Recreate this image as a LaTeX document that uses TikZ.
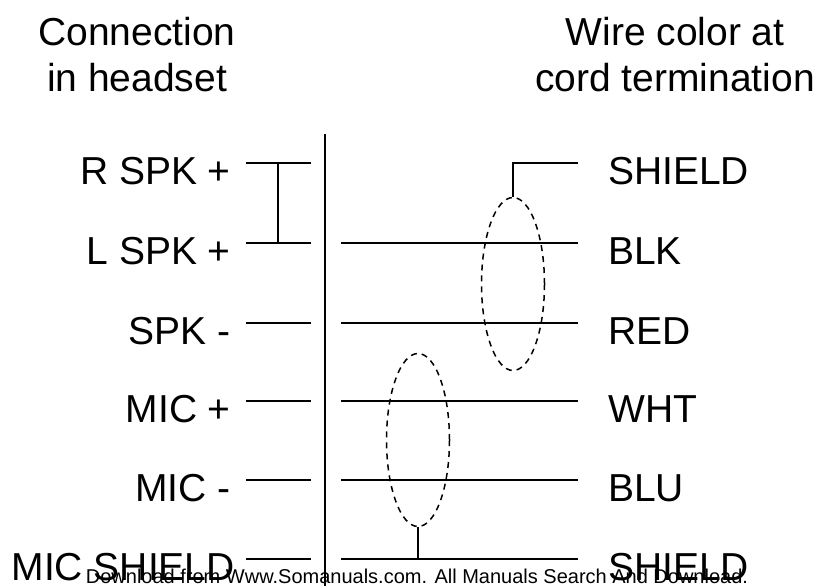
\documentclass[tikz,border=0pt]{standalone}
\usepackage{fontspec}
\setmainfont{Liberation Sans}
\usetikzlibrary{positioning,shapes.geometric}
\begin{document}
\begin{tikzpicture}[x=1pt,y=-1pt,
                    signal/.style={inner sep=0pt,font=\fontsize{39}{44}\selectfont},
                    leftlabel/.style={signal,anchor=base east},
                    rightlabel/.style={signal,anchor=base west},
                    title/.style={inner sep=0pt,align=center,anchor=center,font=\fontsize{39}{46}\selectfont},
                    wire/.style={draw=black,line width=1.3pt},
                    pair/.style={draw=black,line width=1.5pt,dash pattern=on 6pt off 5pt,ellipse,minimum width=63pt,minimum height=173pt,inner sep=0pt}
                ]
    \useasboundingbox (0,0) rectangle (818,586);
    \node[title] (headset) at (137,55) {Connection\\in headset};
    \node[title] (cord) at (675,55) {Wire color at\\cord termination};
    % left column
    \foreach \name/\txt/\y/\x in {rspk/R SPK +/163/231,lspk/L SPK +/243/231,spkm/SPK -/323/231,micp/MIC +/401/231,micm/MIC -/480/231,micsh/MIC SHIELD/559/235}
        {
        \node[leftlabel] (\name) at (\x,\y+21.5) {\txt};
        \coordinate (\name a) at (246,\y);
        \coordinate (\name b) at (311,\y);
        \draw[wire] (\name a) -- (\name b);
        }
    % right column
    \foreach \name/\txt/\y in {shieldr/SHIELD/163,blk/BLK/243,red/RED/323,wht/WHT/401,blu/BLU/480,shieldb/SHIELD/559}
        {
        \node[rightlabel] (\name) at (608,\y+21.5) {\txt};
        \coordinate (\name e) at (578,\y);
        }
    \foreach \name/\y in {blk/243,red/323,wht/401,blu/480,shieldb/559}
        {
        \coordinate (\name s) at (341,\y);
        \draw[wire] (\name s) -- (\name e);
        }
    % divider
    \coordinate (divtop) at (325,134);
    \coordinate (divbot) at (325,586);
    \draw[wire] (divtop) -- (divbot);
    % bridge
    \draw[wire] (278,163) -- (278,243);
    % shield pairs
    \node[pair] (pairtop) at (513,284) {};
    \node[pair] (pairbot) at (418,440) {};
    \draw[wire] (shieldre) -| (pairtop.north);
    \draw[wire] (pairbot.south) -- (418,559);
    \node[inner sep=0pt,anchor=base,font=\fontsize{20}{24}\selectfont] (footer) at (417,583) {Download from Www.Somanuals.com. All Manuals Search And Download.};
\end{tikzpicture}
\end{document}
